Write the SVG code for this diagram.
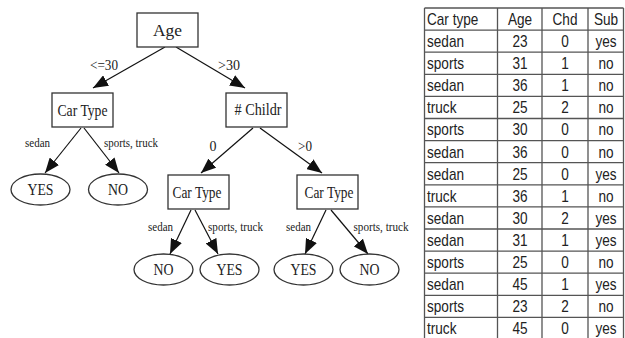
<svg xmlns="http://www.w3.org/2000/svg" width="625" height="338" viewBox="0 0 625 338">
<style>
.box{fill:#fff;stroke:#333;stroke-width:1.3}
.leaf{fill:#fff;stroke:#333;stroke-width:1.3}
.edge{stroke:#111;stroke-width:1.2;fill:none;marker-end:url(#ah)}
.nt{font-family:"Liberation Serif","Times New Roman",serif;font-size:17px;fill:#222;text-anchor:middle}
.lt{font-family:"Liberation Serif","Times New Roman",serif;font-size:16px;fill:#222;text-anchor:middle}
.el{font-family:"Liberation Serif","Times New Roman",serif;font-size:14px;fill:#222;text-anchor:middle}
.sl{font-family:"Liberation Serif","Times New Roman",serif;font-size:12px;fill:#222;text-anchor:middle}
.grid{stroke:#555;stroke-width:1.3;fill:none}
.tt{font-family:"Liberation Sans",Arial,sans-serif;font-size:16px;fill:#222}
.c{text-anchor:middle}
</style>
<defs>
<marker id="ah" markerUnits="userSpaceOnUse" markerWidth="16" markerHeight="12" refX="15" refY="6" orient="auto" viewBox="0 0 16 12">
<path d="M0,0 L15,6 L0,12 z" fill="#111"/>
</marker>
</defs>

<g id="connectors">
<line class="edge" x1="165" y1="47" x2="93" y2="88"/>
<line class="edge" x1="176" y1="47" x2="245" y2="88"/>
<line class="edge" x1="81" y1="128" x2="45" y2="173"/>
<line class="edge" x1="84" y1="128" x2="119" y2="173"/>
<line class="edge" x1="253" y1="128" x2="201" y2="173"/>
<line class="edge" x1="260" y1="128" x2="322" y2="173"/>
<line class="edge" x1="191" y1="210" x2="170" y2="254"/>
<line class="edge" x1="195" y1="210" x2="218" y2="254"/>
<line class="edge" x1="326" y1="210" x2="305" y2="254"/>
<line class="edge" x1="331" y1="210" x2="368" y2="254"/>
<text class="el" x="104" y="70" textLength="28" lengthAdjust="spacingAndGlyphs">&lt;=30</text>
<text class="el" x="229" y="70" textLength="22" lengthAdjust="spacingAndGlyphs">&gt;30</text>
<text class="sl" x="37.5" y="146.5" textLength="25" lengthAdjust="spacingAndGlyphs">sedan</text>
<text class="sl" x="131" y="146.5" textLength="54" lengthAdjust="spacingAndGlyphs">sports, truck</text>
<text class="el" x="213" y="150.5">0</text>
<text class="el" x="305" y="150.5" textLength="14" lengthAdjust="spacingAndGlyphs">&gt;0</text>
<text class="sl" x="160.5" y="231" textLength="25" lengthAdjust="spacingAndGlyphs">sedan</text>
<text class="sl" x="235.5" y="231" textLength="55" lengthAdjust="spacingAndGlyphs">sports, truck</text>
<text class="sl" x="298.5" y="231" textLength="25" lengthAdjust="spacingAndGlyphs">sedan</text>
<text class="sl" x="381" y="231" textLength="55" lengthAdjust="spacingAndGlyphs">sports, truck</text>
</g>

<g id="node-age">
<rect class="box" x="137" y="13" width="61" height="34"/>
<text class="nt" x="167.5" y="36" font-size="18" textLength="29" lengthAdjust="spacingAndGlyphs">Age</text>
</g>
<g id="node-cartype-1">
<rect class="box" x="52" y="93" width="61" height="34"/>
<text class="nt" x="82.5" y="115.5" textLength="50" lengthAdjust="spacingAndGlyphs">Car Type</text>
</g>
<g id="node-childr">
<rect class="box" x="226" y="93" width="61" height="34"/>
<text class="nt" x="258" y="115" textLength="47" lengthAdjust="spacingAndGlyphs"># Childr</text>
</g>
<g id="node-cartype-2">
<rect class="box" x="168" y="175" width="61" height="34"/>
<text class="nt" x="197" y="197.5" textLength="49" lengthAdjust="spacingAndGlyphs">Car Type</text>
</g>
<g id="node-cartype-3">
<rect class="box" x="297" y="175" width="61" height="34"/>
<text class="nt" x="329" y="197.5" textLength="49" lengthAdjust="spacingAndGlyphs">Car Type</text>
</g>

<g id="leaf-yes-1">
<ellipse class="leaf" cx="40.5" cy="189.5" rx="29.5" ry="15.5"/>
<text class="lt" x="40.5" y="195" textLength="26" lengthAdjust="spacingAndGlyphs">YES</text>
</g>
<g id="leaf-no-1">
<ellipse class="leaf" cx="118" cy="189.5" rx="29.5" ry="15.5"/>
<text class="lt" x="118" y="195" textLength="20" lengthAdjust="spacingAndGlyphs">NO</text>
</g>
<g id="leaf-no-2">
<ellipse class="leaf" cx="163.5" cy="269.5" rx="29.5" ry="15.5"/>
<text class="lt" x="163.5" y="275" textLength="20" lengthAdjust="spacingAndGlyphs">NO</text>
</g>
<g id="leaf-yes-2">
<ellipse class="leaf" cx="229.5" cy="269.5" rx="29.5" ry="15.5"/>
<text class="lt" x="229.5" y="275" textLength="26" lengthAdjust="spacingAndGlyphs">YES</text>
</g>
<g id="leaf-yes-3">
<ellipse class="leaf" cx="303.5" cy="269.5" rx="29.5" ry="15.5"/>
<text class="lt" x="303.5" y="275" textLength="26" lengthAdjust="spacingAndGlyphs">YES</text>
</g>
<g id="leaf-no-3">
<ellipse class="leaf" cx="369.5" cy="269.5" rx="29.5" ry="15.5"/>
<text class="lt" x="369.5" y="275" textLength="20" lengthAdjust="spacingAndGlyphs">NO</text>
</g>

<g id="table">
<path class="grid" d="M424.5,8 V338 M497.5,8 V338 M542,8 V338 M588,8 V338 M623.5,8 V338
M424.5,8 H623.5 M424.5,30.1 H623.5 M424.5,52.2 H623.5 M424.5,74.3 H623.5 M424.5,96.4 H623.5
M424.5,118.5 H623.5 M424.5,140.6 H623.5 M424.5,162.7 H623.5 M424.5,184.8 H623.5 M424.5,206.9 H623.5
M424.5,229 H623.5 M424.5,251.1 H623.5 M424.5,273.2 H623.5 M424.5,295.3 H623.5 M424.5,317.4 H623.5"/>
<g transform="scale(0.85,1)">
<text class="tt" x="502.35" y="25">Car type</text><text class="tt c" x="611.76" y="25">Age</text><text class="tt c" x="664.71" y="25">Chd</text><text class="tt c" x="712.94" y="25">Sub</text>
<text class="tt" x="502.35" y="47.1">sedan</text><text class="tt c" x="611.76" y="47.1">23</text><text class="tt c" x="664.71" y="47.1">0</text><text class="tt c" x="712.94" y="47.1">yes</text>
<text class="tt" x="502.35" y="69.2">sports</text><text class="tt c" x="611.76" y="69.2">31</text><text class="tt c" x="664.71" y="69.2">1</text><text class="tt c" x="712.94" y="69.2">no</text>
<text class="tt" x="502.35" y="91.3">sedan</text><text class="tt c" x="611.76" y="91.3">36</text><text class="tt c" x="664.71" y="91.3">1</text><text class="tt c" x="712.94" y="91.3">no</text>
<text class="tt" x="502.35" y="113.4">truck</text><text class="tt c" x="611.76" y="113.4">25</text><text class="tt c" x="664.71" y="113.4">2</text><text class="tt c" x="712.94" y="113.4">no</text>
<text class="tt" x="502.35" y="135.5">sports</text><text class="tt c" x="611.76" y="135.5">30</text><text class="tt c" x="664.71" y="135.5">0</text><text class="tt c" x="712.94" y="135.5">no</text>
<text class="tt" x="502.35" y="157.6">sedan</text><text class="tt c" x="611.76" y="157.6">36</text><text class="tt c" x="664.71" y="157.6">0</text><text class="tt c" x="712.94" y="157.6">no</text>
<text class="tt" x="502.35" y="179.7">sedan</text><text class="tt c" x="611.76" y="179.7">25</text><text class="tt c" x="664.71" y="179.7">0</text><text class="tt c" x="712.94" y="179.7">yes</text>
<text class="tt" x="502.35" y="201.8">truck</text><text class="tt c" x="611.76" y="201.8">36</text><text class="tt c" x="664.71" y="201.8">1</text><text class="tt c" x="712.94" y="201.8">no</text>
<text class="tt" x="502.35" y="223.9">sedan</text><text class="tt c" x="611.76" y="223.9">30</text><text class="tt c" x="664.71" y="223.9">2</text><text class="tt c" x="712.94" y="223.9">yes</text>
<text class="tt" x="502.35" y="246">sedan</text><text class="tt c" x="611.76" y="246">31</text><text class="tt c" x="664.71" y="246">1</text><text class="tt c" x="712.94" y="246">yes</text>
<text class="tt" x="502.35" y="268.1">sports</text><text class="tt c" x="611.76" y="268.1">25</text><text class="tt c" x="664.71" y="268.1">0</text><text class="tt c" x="712.94" y="268.1">no</text>
<text class="tt" x="502.35" y="290.2">sedan</text><text class="tt c" x="611.76" y="290.2">45</text><text class="tt c" x="664.71" y="290.2">1</text><text class="tt c" x="712.94" y="290.2">yes</text>
<text class="tt" x="502.35" y="312.3">sports</text><text class="tt c" x="611.76" y="312.3">23</text><text class="tt c" x="664.71" y="312.3">2</text><text class="tt c" x="712.94" y="312.3">no</text>
<text class="tt" x="502.35" y="334.4">truck</text><text class="tt c" x="611.76" y="334.4">45</text><text class="tt c" x="664.71" y="334.4">0</text><text class="tt c" x="712.94" y="334.4">yes</text>
</g>
</g>
</svg>
